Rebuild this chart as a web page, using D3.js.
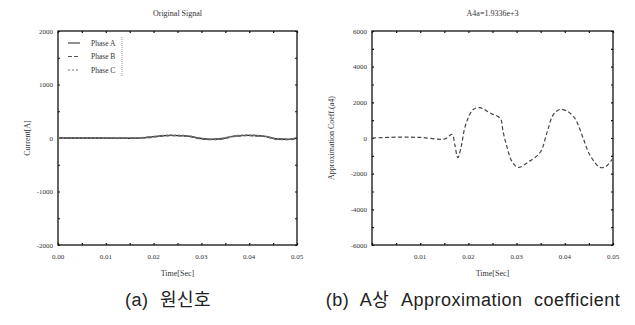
<!DOCTYPE html>
<html>
<head>
<meta charset="utf-8">
<script src="https://cdn.jsdelivr.net/npm/d3@7"></script>
<style>
body { margin:0; background:#fff; }
svg text { font-family: "Liberation Serif", serif; fill:#333; }
.cap { font-family: "Liberation Sans", "Noto Sans CJK KR", sans-serif; fill:#222; letter-spacing:0.5px; word-spacing:6px; }
</style>
</head>
<body>
<svg id="fig" width="635" height="325"></svg>
<script>
/*************** data ***************/
// (a) original signal, three phases (they overlap, nearly flat)
var timeA   = [0, 0.008, 0.016, 0.019, 0.0235, 0.027, 0.0295, 0.032, 0.0345, 0.0365, 0.0395, 0.043, 0.046, 0.0485, 0.05];
var phaseA  = [0, 0, -5, 15, 50, 40, -5, -25, -10, 30, 50, 35, -20, -25, 0];
var phaseB  = [0, 0, -5, 10, 45, 35, -10, -30, -15, 25, 45, 30, -25, -30, 5];
var phaseC  = [0, 5, 0, 20, 55, 45, 0, -20, -5, 35, 55, 40, -15, -20, 10];
var legendA = ["Phase A", "Phase B", "Phase C"];
var yTicksA = [2000, 1000, 0, -1000, -2000];
var xTicksA = [0, 0.01, 0.02, 0.03, 0.04, 0.05];

// (b) approximation coefficient a4 of phase A
var timeB  = [0, 0.0058, 0.010, 0.0151, 0.0166, 0.0172, 0.0178, 0.0185, 0.0191, 0.0199, 0.0210, 0.0224,
              0.0245, 0.0266, 0.0272, 0.0280, 0.0290, 0.0303, 0.0324, 0.0349, 0.0363, 0.0376, 0.0390,
              0.0405, 0.0421, 0.0438, 0.0452, 0.0473, 0.0485, 0.0498];
var coefB  = [0, 50, 30, -50, 200, -400, -1100, -500, 400, 1100, 1600, 1700,
              1400, 1100, 350, -500, -1300, -1650, -1350, -800, 300, 1300, 1600,
              1500, 1100, 0, -950, -1650, -1600, -1200];
var yTicksB = [6000, 4000, 2000, 0, -2000, -4000, -6000];
var xTicksB = [0.01, 0.02, 0.03, 0.04, 0.05];

/*************** drawing ***************/
var svg = d3.select("#fig");

function panel(o)
{
    var g = svg.append("g");
    var x = d3.scaleLinear().domain([0, 0.05]).range([o.left, o.right]);
    var y = d3.scaleLinear().domain(o.ydom).range([o.bottom, o.top]);

    // frame
    g.append("rect")
        .attr("x", o.left).attr("y", o.top)
        .attr("width", o.right - o.left).attr("height", o.bottom - o.top)
        .attr("fill", "none").attr("stroke", "#111").attr("stroke-width", 1.3);

    // axes, ticks inward
    var minorX = d3.range(0, 0.0501, 0.005);
    var minorY = d3.range(o.ydom[0], o.ydom[1] + 1, o.ystep / 2);
    var fmt = function(d){ return ""; };
    g.append("g").attr("transform", "translate(0," + o.bottom + ")")
        .call(d3.axisBottom(x).tickValues(minorX).tickSize(-2).tickFormat(fmt));
    g.append("g").attr("transform", "translate(0," + o.top + ")")
        .call(d3.axisTop(x).tickValues(minorX).tickSize(-2).tickFormat(fmt));
    g.append("g").attr("transform", "translate(" + o.left + ",0)")
        .call(d3.axisLeft(y).tickValues(minorY).tickSize(-2).tickFormat(fmt));
    g.append("g").attr("transform", "translate(" + o.right + ",0)")
        .call(d3.axisRight(y).tickValues(minorY).tickSize(-2).tickFormat(fmt));
    g.selectAll(".domain").remove();
    g.selectAll(".tick line").attr("stroke", "#111").attr("stroke-width", 1.2);

    // tick labels
    g.selectAll(".xl").data(o.xticks).enter().append("text")
        .attr("x", function(d){ return x(d); }).attr("y", o.bottom + 14)
        .attr("text-anchor", "middle").attr("font-size", 7)
        .text(function(d){ return d.toFixed(2); });
    g.selectAll(".yl").data(o.yticks).enter().append("text")
        .attr("x", o.left - 5).attr("y", function(d){ return y(d) + 2.5; })
        .attr("text-anchor", "end").attr("font-size", 7)
        .text(function(d){ return d; });

    // titles
    g.append("text").attr("x", (o.left + o.right) / 2).attr("y", 16)
        .attr("text-anchor", "middle").attr("font-size", 8).text(o.title);
    g.append("text").attr("x", (o.left + o.right) / 2).attr("y", o.bottom + 31)
        .attr("text-anchor", "middle").attr("font-size", 8).text("Time[Sec]");
    g.append("text")
        .attr("transform", "translate(" + o.ylabX + "," + ((o.top + o.bottom) / 2) + ") rotate(-90)")
        .attr("text-anchor", "middle").attr("font-size", 8).text(o.ylab);

    return {g: g, x: x, y: y};
}

// (a)
var pa = panel({left: 58, right: 297, top: 31, bottom: 245, ydom: [-2000, 2000], ystep: 1000,
                xticks: xTicksA, yticks: yTicksA, title: "Original Signal",
                ylab: "Current[A]", ylabX: 30});

var seriesA = [phaseA, phaseB, phaseC];
var dashA = ["none", "4,2", "2,2"];
var shadeA = ["#222", "#555", "#777"];
var lineA = d3.line()
    .x(function(d, i){ return pa.x(timeA[i]); })
    .y(function(d){ return pa.y(d); })
    .curve(d3.curveMonotoneX);
seriesA.forEach(function(s, k)
{
    pa.g.append("path").datum(s)
        .attr("d", lineA).attr("fill", "none")
        .attr("stroke", shadeA[k]).attr("stroke-width", 1.4)
        .attr("stroke-dasharray", dashA[k]);
});

// legend
legendA.forEach(function(name, k)
{
    var ly = 43 + k * 13.5;
    pa.g.append("line").attr("x1", 68).attr("x2", 80).attr("y1", ly).attr("y2", ly)
        .attr("stroke", shadeA[k]).attr("stroke-width", 1).attr("stroke-dasharray", dashA[k]);
    pa.g.append("text").attr("x", 91).attr("y", ly + 2.5).attr("font-size", 7.5).text(name);
});
pa.g.append("line").attr("x1", 122).attr("x2", 122).attr("y1", 37).attr("y2", 77)
    .attr("stroke", "#777").attr("stroke-width", 0.8).attr("stroke-dasharray", "1,1");

// (b)
var pb = panel({left: 372, right: 613, top: 31, bottom: 245, ydom: [-6000, 6000], ystep: 2000,
                xticks: xTicksB, yticks: yTicksB, title: "A4a=1.9336e+3",
                ylab: "Approximation Coeff.(a4)", ylabX: 334});

var lineB = d3.line()
    .x(function(d, i){ return pb.x(timeB[i]); })
    .y(function(d){ return pb.y(d); })
    .curve(d3.curveCatmullRom);
pb.g.append("path").datum(coefB)
    .attr("d", lineB).attr("fill", "none")
    .attr("stroke", "#444").attr("stroke-width", 1.2)
    .attr("stroke-dasharray", "4,2.5");

// captions
svg.append("text").attr("class", "cap").attr("x", 168).attr("y", 306)
    .attr("text-anchor", "middle").attr("font-size", 18).text("(a) 원신호");
svg.append("text").attr("class", "cap").attr("x", 473).attr("y", 306)
    .attr("text-anchor", "middle").attr("font-size", 18)
    .text("(b) A상 Approximation coefficient");
</script>
</body>
</html>
